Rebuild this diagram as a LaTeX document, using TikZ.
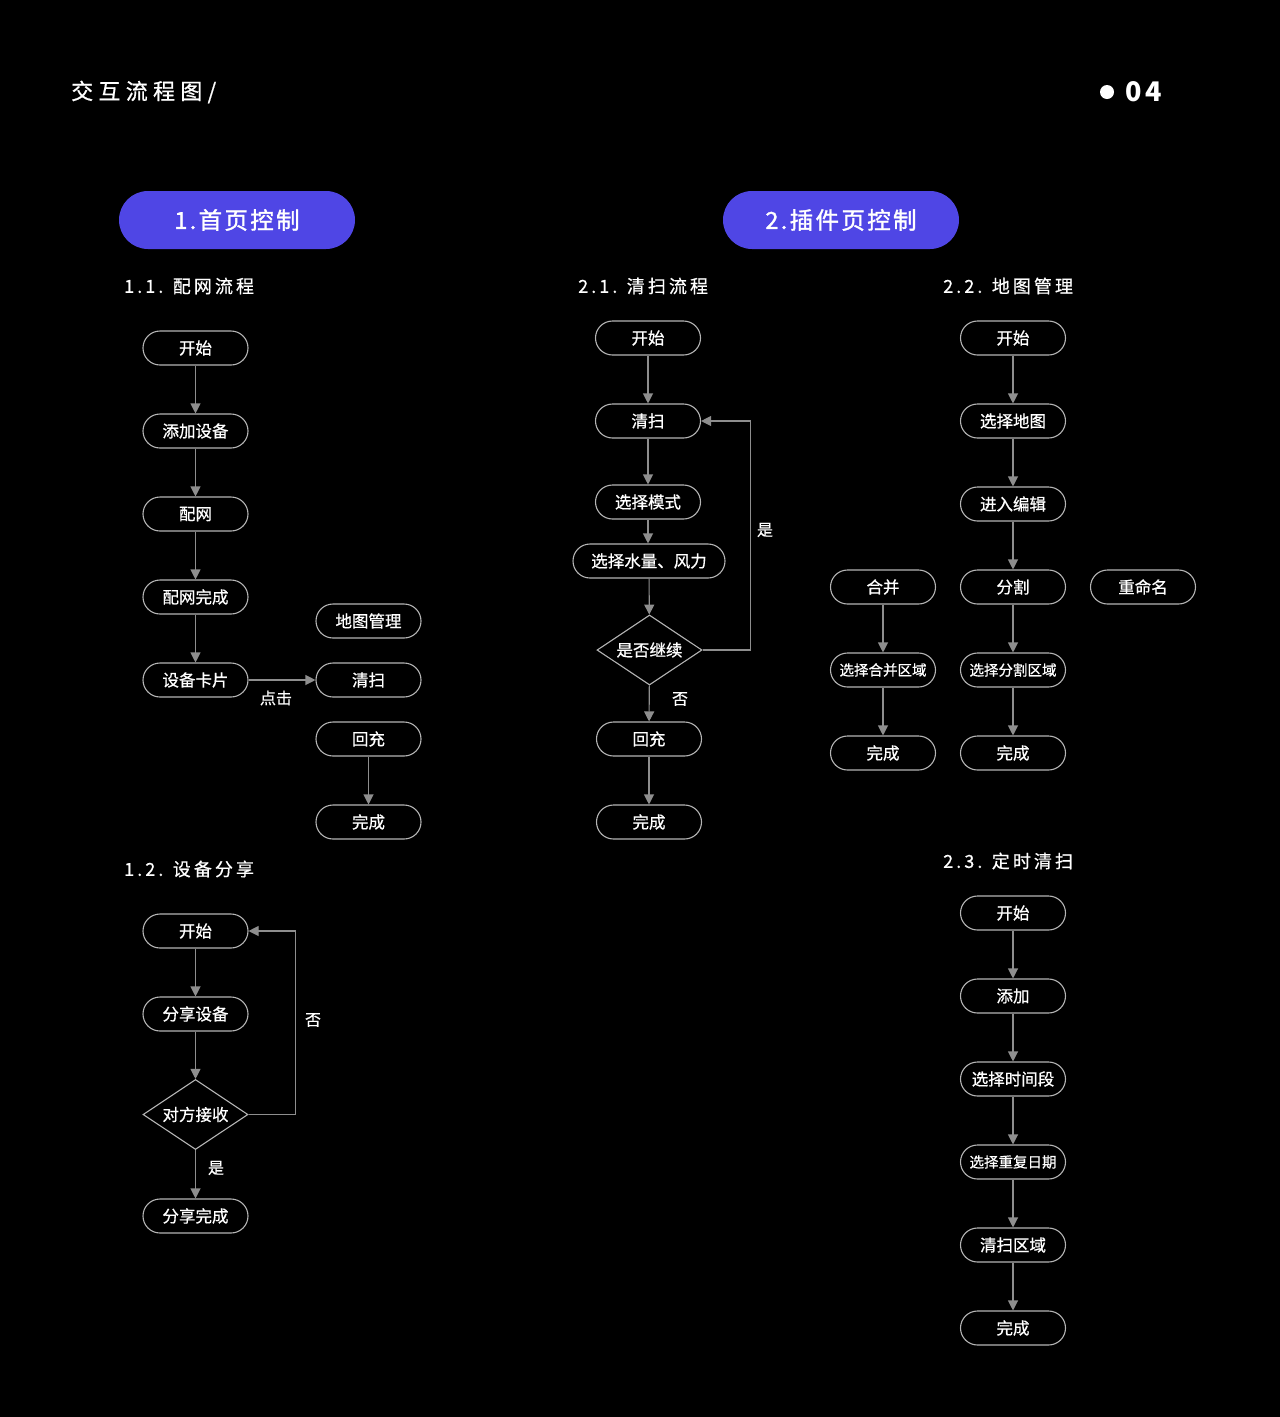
\documentclass[tikz,border=0pt]{standalone}
\usepackage{fontspec}
\setmainfont{Noto Sans CJK SC}
\newfontfamily\medf{Noto Sans CJK SC}[FakeBold=0.7]
\newfontfamily\medsp{Noto Sans CJK SC}[FakeBold=0.6,LetterSpace=17]
\newfontfamily\titlef{Noto Sans CJK SC}[FakeBold=0.7,LetterSpace=24]
\newfontfamily\pillf{Noto Sans CJK SC}[FakeBold=1.4,LetterSpace=10]
\usetikzlibrary{shapes.geometric,arrows.meta}
\definecolor{pillc}{HTML}{4F46E5}
\definecolor{edgec}{HTML}{B4B4B4}
\definecolor{arrc}{HTML}{8E8E8E}
\tikzset{
 box/.style={draw=edgec, line width=1.1pt, rounded corners=17pt, minimum width=105pt, minimum height=34pt, inner sep=0pt, text=white, font=\medf\fontsize{16.5}{16.5}\selectfont},
 smallbox/.style={box, font=\medf\fontsize{14.5}{14.5}\selectfont},
 widebox/.style={box, minimum width=152pt},
 dia/.style={draw=edgec, line width=1.1pt, diamond, aspect=1.6, minimum width=105pt, minimum height=70pt, inner sep=0pt, text=white, font=\medf\fontsize{16.5}{16.5}\selectfont},
 flow/.style={draw=arrc, line width=1.1pt, -{Triangle[width=10pt,length=10pt,fill=arrc]}},
 lbl/.style={text=white, inner sep=0pt, font=\medf\fontsize{16}{16}\selectfont},
 head/.style={text=white, anchor=west, inner sep=0pt, font=\medsp\fontsize{18}{18}\selectfont},
 pill/.style={fill=pillc, rounded corners=29pt, minimum width=236pt, minimum height=58pt, inner sep=0pt, text=white, font=\pillf\fontsize{23.5}{23.5}\selectfont},
}
\begin{document}
\begin{tikzpicture}[x=1pt,y=-1pt]
\fill[black] (0,0) rectangle (1280,1417);
\useasboundingbox (0,0) rectangle (1280,1417);
% header
\node[text=white, anchor=west, inner sep=0pt, font=\titlef\fontsize{22}{22}\selectfont] (title) at (71,92) {交互流程图/};
\fill[white] (1107,92) circle (7pt);
\node[text=white, anchor=west, inner sep=0pt, font=\fontsize{27}{27}\selectfont\bfseries\addfontfeature{LetterSpace=14}] (num) at (1125,92) {04};
% pills
\node[pill] (p1) at (237,220) {1.首页控制};
\node[pill] (p2) at (841,220) {2.插件页控制};
% headings
\node[head] (h11) at (124,286) {1.1. 配网流程};
\node[head] (h12) at (124,869) {1.2. 设备分享};
\node[head] (h21) at (578,286) {2.1. 清扫流程};
\node[head] (h22) at (943,286) {2.2. 地图管理};
\node[head] (h23) at (943,861) {2.3. 定时清扫};
% 1.1
\node[box] (a1) at (195.5,348) {开始};
\node[box] (a2) at (195.5,431) {添加设备};
\node[box] (a3) at (195.5,514) {配网};
\node[box] (a4) at (195.5,597) {配网完成};
\node[box] (a5) at (195.5,680) {设备卡片};
\node[box] (b1) at (368.5,621) {地图管理};
\node[box] (b2) at (368.5,680) {清扫};
\node[box] (b3) at (368.5,739) {回充};
\node[box] (b4) at (368.5,822) {完成};
\draw[flow] (a1) -- (a2);
\draw[flow] (a2) -- (a3);
\draw[flow] (a3) -- (a4);
\draw[flow] (a4) -- (a5);
\draw[flow] (a5) -- (b2);
\draw[flow] (b3) -- (b4);
\node[lbl] (l1) at (276,698) {点击};
% 1.2
\node[box] (c1) at (195.5,931) {开始};
\node[box] (c2) at (195.5,1014) {分享设备};
\node[dia] (c3) at (195.5,1114.5) {对方接收};
\node[box] (c4) at (195.5,1216) {分享完成};
\draw[flow] (c1) -- (c2);
\draw[flow] (c2) -- (c3);
\draw[flow] (c3) -- (c4);
\draw[flow] (c3.east) -| ([xshift=47pt]c1.east) -- (c1.east);
\node[lbl] (l2) at (313,1020) {否};
\node[lbl] (l3) at (216,1168) {是};
% 2.1
\node[box] (d1) at (648,338) {开始};
\node[box] (d2) at (648,421) {清扫};
\node[box] (d3) at (648,502) {选择模式};
\node[widebox] (d4) at (649,561) {选择水量、风力};
\node[dia] (d5) at (649.5,650) {是否继续};
\node[box] (d6) at (649,739) {回充};
\node[box] (d7) at (649,822) {完成};
\draw[flow] (d1) -- (d2);
\draw[flow] (d2) -- (d3);
\draw[flow] (d3) -- (d3 |- d4.north);
\draw[flow] (d4) -- (d5);
\draw[flow] (d5) -- (d6);
\draw[flow] (d6) -- (d7);
\draw[flow] (d5.east) -| ([xshift=49pt]d2.east) -- (d2.east);
\node[lbl] (l4) at (765,530) {是};
\node[lbl] (l5) at (680,699) {否};
% 2.2
\node[box] (e1) at (1013,338) {开始};
\node[box] (e2) at (1013,421) {选择地图};
\node[box] (e3) at (1013,504) {进入编辑};
\node[box] (e4) at (1013,587) {分割};
\node[smallbox] (e5) at (1013,670) {选择分割区域};
\node[box] (e6) at (1013,753) {完成};
\node[box] (f1) at (883,587) {合并};
\node[smallbox] (f2) at (883,670) {选择合并区域};
\node[box] (f3) at (883,753) {完成};
\node[box] (g1) at (1143,587) {重命名};
\draw[flow] (e1) -- (e2);
\draw[flow] (e2) -- (e3);
\draw[flow] (e3) -- (e4);
\draw[flow] (e4) -- (e5);
\draw[flow] (e5) -- (e6);
\draw[flow] (f1) -- (f2);
\draw[flow] (f2) -- (f3);
% 2.3
\node[box] (k1) at (1013,913) {开始};
\node[box] (k2) at (1013,996) {添加};
\node[box] (k3) at (1013,1079) {选择时间段};
\node[smallbox] (k4) at (1013,1162) {选择重复日期};
\node[box] (k5) at (1013,1245) {清扫区域};
\node[box] (k6) at (1013,1328) {完成};
\draw[flow] (k1) -- (k2);
\draw[flow] (k2) -- (k3);
\draw[flow] (k3) -- (k4);
\draw[flow] (k4) -- (k5);
\draw[flow] (k5) -- (k6);
\end{tikzpicture}
\end{document}
